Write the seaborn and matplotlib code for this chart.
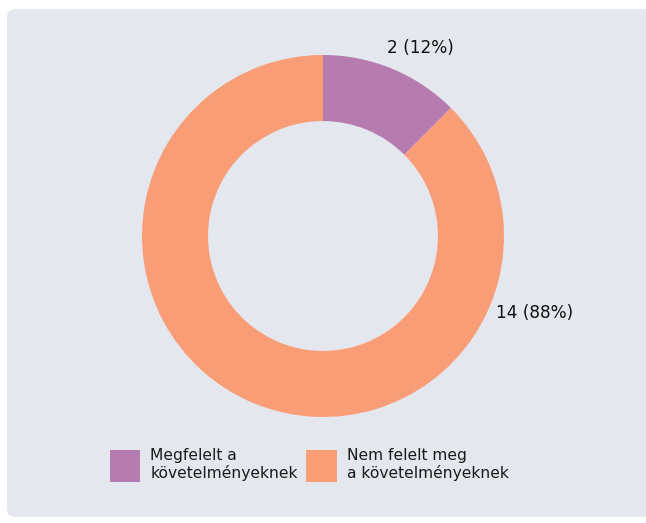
import matplotlib.pyplot as plt
import seaborn as sns
from matplotlib.patches import FancyBboxPatch, Patch

# data
categories = ["Megfelelt a\nkövetelményeknek", "Nem felelt meg\na követelményeknek"]
counts = [2, 14]
colors = ["#b77caf", "#f99d77"]

sns.set_theme(style="white")
plt.rcParams["font.family"] = ["DejaVu Sans"]

W, H = 646, 523
fig = plt.figure(figsize=(W / 100, H / 100), dpi=100)
fig.patch.set_facecolor("white")

# rounded grey panel, behind everything
panel = FancyBboxPatch((7 / W, 6 / H), 1.2, (H - 15) / H,
                       boxstyle="round,pad=0,rounding_size=0.015",
                       transform=fig.transFigure, facecolor="#e5e7ef",
                       edgecolor="none", zorder=-10)
fig.patches.append(panel)

# donut axes
cx, cy, r = 323, 236, 181
ax = fig.add_axes([(cx - r) / W, (H - cy - r) / H, 2 * r / W, 2 * r / H])
ax.set_facecolor("none")
ax.set_zorder(5)
ax.pie(counts, colors=colors, startangle=90, counterclock=False,
       radius=1, wedgeprops=dict(width=0.365, edgecolor="none"))
ax.set_xlim(-1, 1)
ax.set_ylim(-1, 1)
ax.set_aspect("equal")
ax.axis("off")

total = sum(counts)
labels = [f"{c} ({round(100 * c / total)}%)" for c in counts]
label_pos = [(0.536, 1.04), (1.17, -0.425)]
for txt, (x, y) in zip(labels, label_pos):
    ax.text(x, y, txt, ha="center", va="center", fontsize=12.2,
            color="#111111", clip_on=False)

handles = [Patch(facecolor=c, edgecolor="none") for c in colors]
leg = fig.legend(handles, categories, loc="center left",
                 bbox_to_anchor=(102 / W, 1 - 465 / H), ncol=2, frameon=False,
                 fontsize=11.2, handlelength=1.95, handleheight=2.85,
                 handletextpad=0.65, columnspacing=0.55, borderpad=0,
                 labelcolor="#1a1a1a")
leg.set_zorder(5)

fig.savefig("out.png", dpi=100)
